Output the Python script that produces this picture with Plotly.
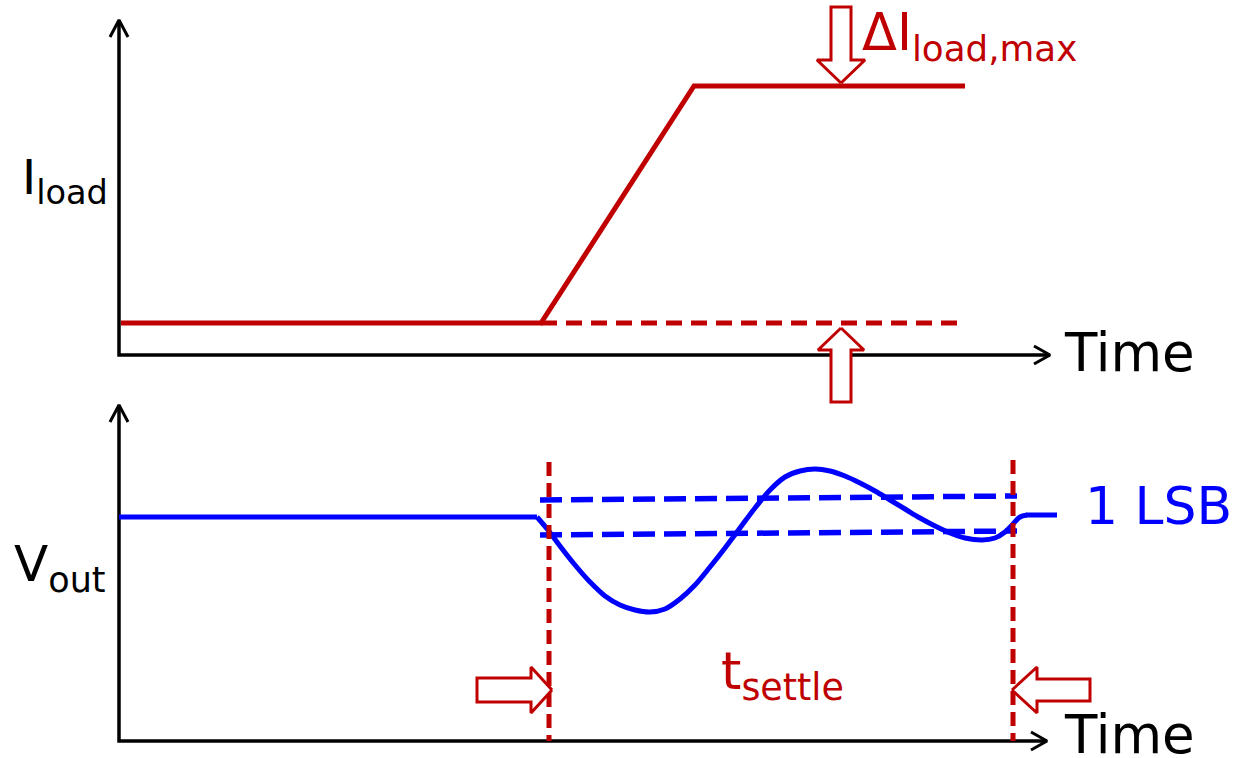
import plotly.graph_objects as go

RED = "#C00000"
BLUE = "#0000FF"
BLACK = "#000000"
FONT = "DejaVu Sans"

# ---- data (diagram coordinates: x to the right, y downward) ----
# Load current step (top panel)
iload_x = [121, 541, 694, 965]
iload_y = [323, 323, 86, 86]
iload_base_x = [541, 960]
iload_base_y = [323, 323]

# Output voltage transient (bottom panel)
vout_flat_x = [119, 537]
vout_flat_y = [517, 517]
vout_x = [537, 548, 560, 575, 590, 605, 620, 635, 650, 665, 680, 695, 710, 725, 740, 755, 770, 785,
          800, 815, 830, 845, 860, 875, 890, 905, 920, 935, 950, 965, 982, 995, 1005, 1013, 1020, 1027]
vout_y = [517, 530, 546, 565, 582, 596, 605, 610, 612, 609, 599, 585, 567, 548, 528, 508, 490, 477,
          471, 469, 471, 476, 483, 491, 500, 509, 518, 526, 533, 538, 540, 538, 532, 524, 517, 515]
vout_end_x = [1026, 1057]
vout_end_y = [515, 515]

# 1 LSB band
lsb_upper_x = [540, 1017]
lsb_upper_y = [500, 496]
lsb_lower_x = [540, 1017]
lsb_lower_y = [535, 531]

# settling-time markers
settle_x = [549, 1013]
settle_top = [462, 460]
settle_bottom = 741

# axes
top_origin = (119, 355)
top_ytip = 20
top_xtip = 1050
bot_origin = (119, 741)
bot_ytip = 405
bot_xtip = 1047

fig = go.Figure()

def line(xs, ys, color, width, dash="solid", shape="linear", smoothing=1.0):
    fig.add_trace(go.Scatter(x=xs, y=ys, mode="lines",
                             line=dict(color=color, width=width, dash=dash, shape=shape, smoothing=smoothing),
                             hoverinfo="skip", showlegend=False))

# axes with open arrow heads
for (ox, oy), ytip, xtip in [(top_origin, top_ytip, top_xtip), (bot_origin, bot_ytip, bot_xtip)]:
    line([ox, ox, xtip], [ytip, oy, oy], BLACK, 3.5)
    line([ox - 9, ox, ox + 9], [ytip + 17, ytip, ytip + 17], BLACK, 3)
    line([xtip - 16, xtip, xtip - 16], [oy - 9, oy, oy + 9], BLACK, 3)

# load current
line(iload_base_x, iload_base_y, RED, 5, dash="16px,9px")
line(iload_x, iload_y, RED, 5)

# lsb band
line(lsb_upper_x, lsb_upper_y, BLUE, 5.5, dash="22px,9px")
line(lsb_lower_x, lsb_lower_y, BLUE, 5.5, dash="22px,9px")

# vout
line(vout_flat_x, vout_flat_y, BLUE, 5)
line(vout_x, vout_y, BLUE, 5, shape="spline", smoothing=1.0)
line(vout_end_x, vout_end_y, BLUE, 5)

# settle markers
for sx, st in zip(settle_x, settle_top):
    line([sx, sx], [st, settle_bottom], RED, 5, dash="14px,7px")

# hollow block arrows
def block_arrow(tip, direction, head_len=23, head_half=24, shaft_half=10, shaft_len=52):
    tx, ty = tip
    if direction == "down":
        xs = [tx, tx - head_half, tx - shaft_half, tx - shaft_half, tx + shaft_half, tx + shaft_half, tx + head_half, tx]
        ys = [ty, ty - head_len, ty - head_len, ty - head_len - shaft_len, ty - head_len - shaft_len, ty - head_len, ty - head_len, ty]
    elif direction == "up":
        xs = [tx, tx - head_half, tx - shaft_half, tx - shaft_half, tx + shaft_half, tx + shaft_half, tx + head_half, tx]
        ys = [ty, ty + head_len, ty + head_len, ty + head_len + shaft_len, ty + head_len + shaft_len, ty + head_len, ty + head_len, ty]
    elif direction == "right":
        ys = [ty, ty - head_half, ty - shaft_half, ty - shaft_half, ty + shaft_half, ty + shaft_half, ty + head_half, ty]
        xs = [tx, tx - head_len, tx - head_len, tx - head_len - shaft_len, tx - head_len - shaft_len, tx - head_len, tx - head_len, tx]
    else:
        ys = [ty, ty - head_half, ty - shaft_half, ty - shaft_half, ty + shaft_half, ty + shaft_half, ty + head_half, ty]
        xs = [tx, tx + head_len, tx + head_len, tx + head_len + shaft_len, tx + head_len + shaft_len, tx + head_len, tx + head_len, tx]
    fig.add_trace(go.Scatter(x=xs, y=ys, mode="lines", fill="toself", fillcolor="white",
                             line=dict(color=RED, width=3), hoverinfo="skip", showlegend=False))

block_arrow((841, 83), "down", head_len=23, head_half=24, shaft_half=10, shaft_len=53)
block_arrow((841, 328), "up", head_len=22, head_half=23, shaft_half=10, shaft_len=52)
block_arrow((552, 690), "right", head_len=21, head_half=23, shaft_half=12, shaft_len=54)
block_arrow((1012, 690), "left", head_len=25, head_half=23, shaft_half=11, shaft_len=53)

def text(x, y, s, color, size, xanchor="left", yanchor="middle"):
    fig.add_annotation(x=x, y=y, text=s, showarrow=False, xanchor=xanchor, yanchor=yanchor,
                       font=dict(family=FONT, size=size, color=color))

text(1062, 352, "Time", BLACK, 53)
text(1062, 734, "Time", BLACK, 53)
text(20, 180, "I<sub>load</sub>", BLACK, 48)
text(12, 567, "V<sub>out</sub>", BLACK, 50)
text(860, 36, "ΔI<sub>load,max</sub>", RED, 51)
text(719, 675, "t<sub>settle</sub>", RED, 52)
text(1083, 506, "1 LSB", BLUE, 52)

fig.update_layout(
    width=1242, height=758,
    margin=dict(l=0, r=0, t=0, b=0),
    paper_bgcolor="white", plot_bgcolor="white",
    xaxis=dict(range=[0, 1242], visible=False, fixedrange=True),
    yaxis=dict(range=[758, 0], visible=False, fixedrange=True),
    showlegend=False,
)

fig.write_html("out.html", config={"displayModeBar": False},
               post_script="document.body.style.margin='0';document.body.style.padding='0';document.body.style.overflow='hidden';")
